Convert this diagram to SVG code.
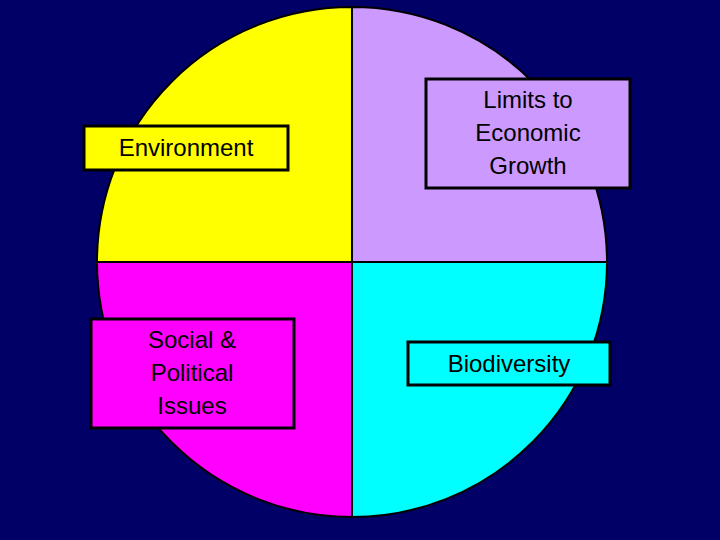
<svg xmlns="http://www.w3.org/2000/svg" width="720" height="540" viewBox="0 0 720 540">
<style>
.q{stroke:#000;stroke-width:2}
.b{stroke:#000;stroke-width:3}
text{font-family:"Liberation Sans",Arial,sans-serif;font-size:24px;fill:#000;text-anchor:middle}
</style>
<rect width="720" height="540" fill="#000066"/>
<g id="pie">
<path class="q" d="M352,262 L352,7 A255,255 0 0 0 97,262 Z" fill="#ffff00"/>
<path class="q" d="M352,262 L352,7 A255,255 0 0 1 607,262 Z" fill="#cc99ff"/>
<path class="q" d="M352,262 L97,262 A255,255 0 0 0 352,517 Z" fill="#ff00ff"/>
<path class="q" d="M352,262 L607,262 A255,255 0 0 1 352,517 Z" fill="#00ffff"/>
</g>
<g id="environment"><rect class="b" x="84" y="126" width="204" height="44" fill="#ffff00"/><text x="186" y="156">Environment</text></g>
<g id="limits"><rect class="b" x="426" y="79" width="204" height="109" fill="#cc99ff"/><text x="528" y="108">Limits to</text><text x="528" y="141">Economic</text><text x="528" y="174">Growth</text></g>
<g id="social"><rect class="b" x="91" y="319" width="203" height="109" fill="#ff00ff"/><text x="192" y="348">Social &amp;</text><text x="192" y="381">Political</text><text x="192" y="414">Issues</text></g>
<g id="biodiversity"><rect class="b" x="408" y="342" width="202" height="43" fill="#00ffff"/><text x="509" y="372">Biodiversity</text></g>
<g id="connectors"/>
</svg>
